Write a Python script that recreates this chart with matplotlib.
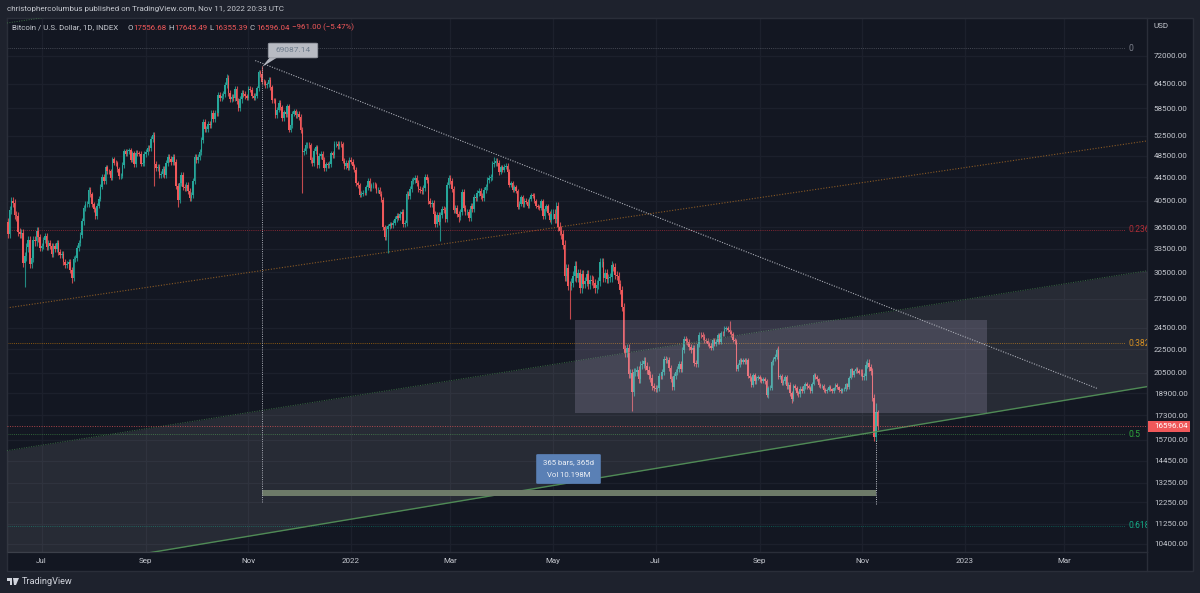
import matplotlib
matplotlib.use('Agg')
import matplotlib.pyplot as plt
import matplotlib.dates as mdates
from matplotlib.patches import Rectangle, FancyBboxPatch, Polygon
from matplotlib.ticker import FixedLocator, FixedFormatter, NullLocator
import numpy as np
import pandas as pd

plt.rcParams['font.family'] = ['Roboto', 'DejaVu Sans']

# daily closes, one list per month
c_2021_06 = [37300,35550,39020,40520,40140,38350,38090,35820,35480,35600,31680,32500,33680,34660,31590,32280,34700,34490,35910,35040]
c_2021_07 = [33570,33890,34670,35290,33690,34230,33860,32880,33810,33510,34260,33090,32730,32820,31780,31420,31530,31790,30820,29790,32140,32290,33630,34260,35430,37340,39460,40020,40030,42240,41630]
c_2021_08 = [39970,39200,38150,39750,40870,42830,44630,43820,46290,45600,45560,44430,47830,47130,47080,45970,44700,44800,46720,49340,48870,49290,49520,47710,48990,46850,49070,48900,48810,46990,47160]
c_2021_09 = [48850,49280,50030,49940,51790,52700,46860,46080,46360,44850,45160,46060,44960,47090,48170,47780,47300,48310,47260,43010,40730,43570,44890,42840,42720,43210,42170,41030,41520,43790]
c_2021_10 = [48140,47710,48200,49110,51510,55360,53800,53970,54960,54690,57490,56010,57370,57360,61670,60880,61530,62010,64260,66000,62210,60690,61300,60860,63080,60330,58470,60590,62270,61890,61350]
c_2021_11 = [60960,63260,62940,61440,61010,61530,63310,67550,66950,64950,64830,64150,64400,65500,63620,60370,60360,56940,58120,59760,58700,56300,57570,57170,58960,53730,54720,57270,57810,56950]
c_2021_12 = [57230,56510,53730,49240,49400,50580,50620,50500,47670,47140,49390,50100,46730,48380,48880,47630,46130,46850,46710,46880,48940,48620,50820,50830,50430,50800,50710,47540,46470,47130,46220]
c_2022_01 = [47740,47300,46450,45830,43430,43080,41550,41680,41860,41820,42740,43920,42590,43080,43180,43110,42250,42380,41680,40700,36470,35050,36280,36660,36960,36820,37170,37710,38170,37920,38480]
c_2022_02 = [38740,36950,37080,41570,41380,42410,43840,44100,44350,43570,42410,42240,42200,42590,44580,43960,40540,40000,40120,38430,37010,38240,37260,38330,39220,39110,37700,43180]
c_2022_03 = [44420,43920,42450,39150,39400,38420,37990,38730,41980,39440,38790,38820,37790,39670,39280,41140,40950,41800,42190,41260,41000,42370,42890,43960,44330,44530,46820,47130,47460,47070,45510]
c_2022_04 = [46280,45810,46410,46580,45500,43170,43440,42280,42770,42160,39530,40080,41150,39940,40550,40400,39680,40800,41500,41370,40480,39710,39520,39450,40430,38120,39240,39740,38600,37630]
c_2022_05 = [38470,38530,37730,39690,36550,36010,35470,34040,30080,30990,28940,28930,29280,30080,31300,29860,30420,28680,30290,29180,29430,30290,29100,29650,29540,29200,28630,29030,29470,31730,31790]
c_2022_06 = [29800,30450,29700,29860,29900,31370,31130,30200,30110,29080,28420,26570,22490,22130,22580,20380,20470,19000,20550,20570,20720,19970,21100,21230,21500,21040,20730,20280,20100,19420]
c_2022_07 = [19270,19240,19310,20230,20190,20540,21620,21590,21590,20860,19970,19330,20210,20580,20830,21190,20780,22430,23400,23230,23160,22680,22450,22580,21310,21250,22960,23840,23770,23640,23300]
c_2022_08 = [23270,22980,22820,22620,23310,22960,23180,23810,23150,23960,23940,24400,24440,24300,24100,23860,23340,23210,20830,21140,21520,21400,21530,21370,21560,20260,20040,19550,20290,19800,20050]
c_2022_09 = [20130,19950,19830,20000,19800,18790,19290,19320,21360,21650,21840,22400,20180,20240,19700,19800,20110,19420,19540,18880,18490,19410,19290,18920,18800,19230,19080,19410,19590,19420]
c_2022_10 = [19310,19060,19620,20340,20160,19960,19530,19420,19440,19130,19060,19160,19380,19180,19070,19260,19550,19330,19120,19040,19170,19200,19570,19330,20090,20770,20290,20600,20820,20630,20490]
c_2022_11 = [20480,20150,20210,21150,21300,20920,20600,18540,15880,17556.68,16596.04]

first_open = 36700
# how far a typical wick sticks out past the body, per month
month_wick = [0.016,0.012,0.010,0.012,0.012,0.010,0.011,0.010,0.012,0.012,0.009,0.018,0.016,0.012,0.009,0.009,0.007,0.014]

# the wicks that stand out on the chart
spike_low_dates = ['2021-06-22','2021-07-20','2021-09-07','2021-09-21','2021-12-04','2022-01-24','2022-02-24','2022-03-07','2022-05-12','2022-06-18','2022-09-07','2022-09-21','2022-11-09','2022-11-11']
spike_low_vals = [28800,29300,42900,39600,41800,33000,34500,37200,25400,17600,18500,18150,15600,16355.39]
spike_high_dates = ['2021-10-20','2021-11-10','2022-03-28','2022-08-15','2022-09-13','2022-06-07','2022-11-10','2022-11-11']
spike_high_vals = [67000,69087.14,48300,25200,22800,31700,18200,17645.49]

y_ticks = [72000,64500,58500,52500,48500,44500,40500,36500,33500,30500,27500,24500,22500,20500,18900,17300,15700,14450,13250,12250,11250,10400]
x_tick_dates = ['2021-07-02','2021-09-02','2021-11-02','2022-01-02','2022-03-02','2022-05-02','2022-07-02','2022-09-02','2022-11-02','2023-01-02','2023-03-02']
x_tick_labels = ['Jul','Sep','Nov','2022','Mar','May','Jul','Sep','Nov','2023','Mar']

fib_levels = ['0','0.236','0.382','0.5','0.618']
fib_prices = [74300,36100,23020,16060,11160]
fib_colors = ['#787b86','#f23645','#ff9800','#4caf50','#089981']
fib_text_colors = ['#7c808b','#b02e37','#d0850f','#2fa83e','#14aa86']

last_price = 16596.04

W, H = 1200, 593
BG = '#1e222d'
PANEL = '#131722'
LINE = '#2a2e39'
GRID = '#1c202c'
UP = '#26a69a'
DOWN = '#f0585a'
TXT = '#c6c9d0'
FS = 5.8

d = lambda s: mdates.date2num(pd.Timestamp(s))
fx = lambda px: px / W
fy = lambda py: 1 - py / H

closes = np.array(c_2021_06 + c_2021_07 + c_2021_08 + c_2021_09 + c_2021_10 + c_2021_11 + c_2021_12
                  + c_2022_01 + c_2022_02 + c_2022_03 + c_2022_04 + c_2022_05 + c_2022_06 + c_2022_07
                  + c_2022_08 + c_2022_09 + c_2022_10 + c_2022_11, dtype=float)
dates = pd.date_range('2021-06-11', periods=len(closes), freq='D')
opens = np.r_[first_open, closes[:-1]]
month_idx = (dates.year - 2021) * 12 + dates.month - 6
wick = np.array(month_wick)[month_idx]
highs = np.maximum(opens, closes) * (1 + wick)
lows = np.minimum(opens, closes) * (1 - wick)
for s, v in zip(spike_low_dates, spike_low_vals):
    lows[dates.get_loc(pd.Timestamp(s))] = v
for s, v in zip(spike_high_dates, spike_high_vals):
    highs[dates.get_loc(pd.Timestamp(s))] = v
x = mdates.date2num(dates)
up = closes >= opens

fig = plt.figure(figsize=(W / 100, H / 100), dpi=100, facecolor=BG)
fig.add_artist(Rectangle((fx(7), fy(571)), fx(1186), 553 / H, transform=fig.transFigure,
                         fc=PANEL, ec=LINE, lw=1, zorder=-5))
ax = fig.add_axes([fx(7), fy(552), fx(1140), 534 / H], facecolor=PANEL)
ax.set_yscale('log')
x0, x1 = d('2021-06-11 10:00'), d('2023-04-20 05:00')
ax.set_xlim(x0, x1)
ax.set_ylim(10060, 83710)

ax.yaxis.set_major_locator(FixedLocator(y_ticks))
ax.yaxis.set_major_formatter(FixedFormatter(['%.2f' % v for v in y_ticks]))
ax.yaxis.set_minor_locator(NullLocator())
ax.yaxis.tick_right()
ax.set_xticks([d(s) for s in x_tick_dates])
ax.set_xticklabels(x_tick_labels)
ax.tick_params(axis='both', length=0, colors=TXT, labelsize=FS)
ax.tick_params(axis='y', pad=5)
ax.tick_params(axis='x', pad=4)
ax.grid(True, color=GRID, lw=0.9, zorder=0)
ax.set_axisbelow(True)
for side, sp in ax.spines.items():
    sp.set_color(LINE)
    sp.set_linewidth(1)

# candles
ax.vlines(x[up], lows[up], highs[up], color=UP, lw=0.8, alpha=0.8, zorder=3)
ax.vlines(x[~up], lows[~up], highs[~up], color=DOWN, lw=0.8, alpha=0.8, zorder=3)
ax.bar(x[up], closes[up] - opens[up], bottom=opens[up], width=0.9, color=UP, lw=0, zorder=4)
ax.bar(x[~up], opens[~up] - closes[~up], bottom=closes[~up], width=0.9, color=DOWN, lw=0, zorder=4)

# channel
ch_x = [x0, x1]
ax.fill_between(ch_x, [9130, 19390], [15040, 30700], color='white', alpha=0.085, lw=0, zorder=5)
ax.plot(ch_x, [9130, 19390], color='#4f8a55', lw=1.0, zorder=6)
ax.plot(ch_x, [15040, 30700], color='#3c6b44', lw=0.7, ls=(0, (1, 1.5)), zorder=6)
ax.plot([x0, d('2021-07-05')], [82060, 84000], color='#3c6b44', lw=0.7, ls=(0, (1, 1.5)), zorder=6)
# orange trendline
ax.plot(ch_x, [26500, 51400], color='#8a5a25', lw=0.8, ls=(0, (1, 1.5)), zorder=2)
# fib levels
fib_end = d('2023-04-07')
for lv, p, col, tc in zip(fib_levels, fib_prices, fib_colors, fib_text_colors):
    ax.plot([x0, fib_end], [p, p], color=col, lw=0.7, alpha=0.5, ls=(0, (1, 1.2)), zorder=2)
    ax.text(d('2023-04-09 12:00'), p, lv, color=tc, fontsize=6.2, va='center', ha='left', clip_on=True)
# last price line
ax.plot(ch_x, [last_price, last_price], color=DOWN, lw=0.7, alpha=0.7, ls=(0, (1, 1.5)), zorder=6)
# box
ax.add_patch(Rectangle((d('2022-05-15'), 17490), d('2023-01-15') - d('2022-05-15'), 25260 - 17490,
                       fc=(0.75, 0.7, 0.85), alpha=0.2, lw=0, zorder=7))
# long falling line from the top
ax.plot([d('2021-11-06'), d('2023-03-22')], [70700, 19230], color='#a9acb5', lw=0.8, ls=(0, (1, 1.3)), zorder=8)
# date range tool
ax.add_patch(Rectangle((d('2021-11-10'), 12570), d('2022-11-10') - d('2021-11-10'), 12870 - 12570,
                       fc='#6d7a68', lw=0, zorder=8))
ax.plot([d('2021-11-10')] * 2, [12250, 68800], color='#a9acb5', lw=0.7, ls=(0, (1, 1.3)), zorder=8)
ax.plot([d('2022-11-10')] * 2, [12150, 15700], color='#c2c5cc', lw=0.7, ls=(0, (1, 1.3)), zorder=8)

# price bubble
fig.add_artist(Polygon([[fx(262), fy(67)], [fx(270), fy(57)], [fx(278), fy(57)]], closed=True, transform=fig.transFigure,
                       fc='#b2b5be', lw=0, zorder=9))
fig.add_artist(FancyBboxPatch((fx(270), fy(57)), fx(46), 13 / H, boxstyle='round,pad=0.0015', transform=fig.transFigure,
                              fc='#b8bbc3', ec='#8f939c', lw=0.5, mutation_aspect=H / W * 2, zorder=9))
fig.text(fx(293), fy(50.5), '69087.14', color='#6f7d8d', fontsize=6.0, ha='center', va='center', zorder=10)

# range tool label
fig.add_artist(FancyBboxPatch((fx(538), fy(483)), fx(61), 28 / H, boxstyle='round,pad=0.0015', transform=fig.transFigure,
                              fc='#5a80b5', lw=0, mutation_aspect=H / W * 2, zorder=9))
fig.text(fx(568.5), fy(462), '365 bars, 365d', color='#eef1f6', fontsize=5.6, ha='center', va='center', zorder=10)
fig.text(fx(568.5), fy(475), 'Vol 10.198M', color='#eef1f6', fontsize=5.6, ha='center', va='center', zorder=10)

# price axis extras
fig.text(fx(1154), fy(26.5), 'USD', color=TXT, fontsize=FS, va='center')
fig.add_artist(Rectangle((fx(1148), fy(432)), fx(42), 11 / H, transform=fig.transFigure, fc='#f0585a', lw=0, zorder=9))
fig.text(fx(1154), fy(426.5), '16596.04', color='white', fontsize=FS, va='center', zorder=10)
fig.add_artist(plt.Line2D([fx(1147)] * 2, [fy(552), fy(571)], color=LINE, lw=1, transform=fig.transFigure))

# header
fig.text(fx(7), fy(9.5), 'christophercolumbus published on TradingView.com, Nov 11, 2022 20:33 UTC',
         color=TXT, fontsize=5.75, va='center')
hdr = [(12, 'Bitcoin / U.S. Dollar, 1D, INDEX', TXT), (127, 'O', TXT), (133, '17556.68', DOWN), (168, 'H', TXT),
       (174, '17645.49', DOWN), (209, 'L', TXT), (214, '16355.39', DOWN), (250, 'C', TXT), (256, '16596.04', DOWN),
       (292, '\u2212961.00 (\u22125.47%)', DOWN)]
for px, s, col in hdr:
    fig.text(fx(px), fy(27.5), s, color=col, fontsize=5.7, va='center')

# logo
logo = '#d1d4dc'
fig.add_artist(Polygon([[fx(7), fy(578)], [fx(12), fy(578)], [fx(12), fy(585)], [fx(10), fy(585)], [fx(10), fy(580.5)], [fx(7), fy(580.5)]],
                       closed=True, transform=fig.transFigure, fc=logo, lw=0))
fig.add_artist(Polygon([[fx(13), fy(578)], [fx(19), fy(578)], [fx(16), fy(585)], [fx(14), fy(585)]],
                       closed=True, transform=fig.transFigure, fc=logo, lw=0))
fig.text(fx(22), fy(581.5), 'TradingView', color=logo, fontsize=6.6, va='center')

fig.savefig('out.png', dpi=100, facecolor=BG)
